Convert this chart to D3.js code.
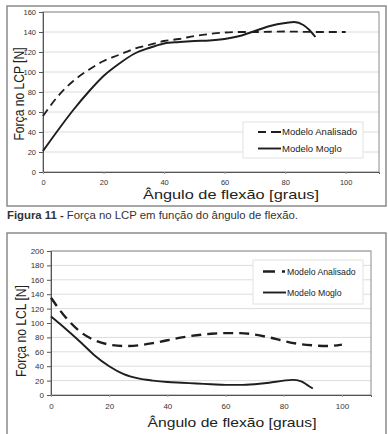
<!DOCTYPE html>
<html>
<head>
<meta charset="utf-8">
<script src="https://cdn.jsdelivr.net/npm/d3@7"></script>
<style>
  body { margin: 0; background: #fff; }
  svg { display: block; font-family: "Liberation Sans", Arial, sans-serif; }
</style>
</head>
<body>
<svg id="chart" width="388" height="434"></svg>
<script>
// Figura 11 - LCP
var lcpAnalisadoX = [0, 5, 10, 15, 20, 25, 30, 35, 40, 45, 50, 55, 60, 65, 70, 80, 90, 100];
var lcpAnalisadoY = [56, 76, 91, 102, 111, 117, 123, 127, 131, 133, 136, 138, 139.5, 140, 140, 140.5, 140, 140];
var lcpMogloX = [0, 5, 10, 15, 20, 25, 30, 35, 40, 45, 50, 55, 60, 65, 70, 75, 80, 83, 86, 88, 90];
var lcpMogloY = [21, 42, 62, 80, 96, 108, 118, 124, 128.5, 130, 131, 131.5, 133, 136, 141, 146, 149, 150, 147, 142, 135];

// LCL
var lclAnalisadoX = [0, 5, 10, 15, 20, 25, 30, 35, 40, 45, 50, 55, 60, 65, 70, 75, 80, 85, 90, 95, 100];
var lclAnalisadoY = [135, 108, 88, 76, 70, 68, 69, 72, 76, 80, 83, 85, 86, 86, 84, 80, 75, 71, 69, 68, 70];
var lclMogloX = [0, 5, 10, 15, 20, 25, 30, 35, 40, 45, 50, 55, 60, 65, 70, 75, 80, 83, 86, 88, 90];
var lclMogloY = [109, 92, 74, 55, 40, 29, 23, 20, 18, 17, 16, 15, 14, 14, 15, 17, 20, 21, 19, 14, 9];

var xTicks = [0, 20, 40, 60, 80, 100];
var lcpTicks = [0, 20, 40, 60, 80, 100, 120, 140, 160];
var lclTicks = [0, 20, 40, 60, 80, 100, 120, 140, 160, 180, 200];
var legendNames = ["Modelo Analisado", "Modelo Moglo"];

var svg = d3.select("#chart");

function zip(xs, ys) {
    return xs.map(function(x, i) { return {x: x, y: ys[i]}; });
}

function drawChart(o) {
    var g = svg.append("g");

    // outer frame
    g.append("rect")
        .attr("x", o.frame[0]).attr("y", o.frame[1])
        .attr("width", o.frame[2]).attr("height", o.frame[3])
        .attr("fill", "none").attr("stroke", "#8a8a8a").attr("stroke-width", 1.5);

    var x = d3.scaleLinear().domain(o.xDomain).range([o.left, o.right]);
    var y = d3.scaleLinear().domain(o.yDomain).range([o.bottom, o.top]);

    // gridlines
    g.selectAll(".grid")
        .data(o.yTicks.slice(1))
        .enter().append("line")
        .attr("x1", o.left).attr("x2", o.right)
        .attr("y1", function(d) { return y(d); })
        .attr("y2", function(d) { return y(d); })
        .attr("stroke", "#dcdcdc").attr("stroke-width", 1);

    // plot area border
    g.append("rect")
        .attr("x", o.left).attr("y", o.top)
        .attr("width", o.right - o.left).attr("height", o.bottom - o.top)
        .attr("fill", "none").attr("stroke", "#8c8c8c").attr("stroke-width", 1);

    var yAxis = g.append("g")
        .attr("transform", "translate(" + o.left + ",0)")
        .call(d3.axisLeft(y).tickValues(o.yTicks).tickSize(4).tickPadding(3));
    yAxis.selectAll("text").attr("font-size", o.tickFont).attr("fill", "#333")
        .attr("font-family", "Liberation Sans, Arial, sans-serif");
    yAxis.selectAll("line,path").attr("stroke", "#555");

    var xAxis = g.append("g")
        .attr("transform", "translate(0," + o.bottom + ")")
        .call(d3.axisBottom(x).tickValues(xTicks).tickSize(2).tickPadding(6));
    xAxis.selectAll("text").attr("font-size", o.tickFont).attr("fill", "#333")
        .attr("font-family", "Liberation Sans, Arial, sans-serif");
    xAxis.selectAll("line").attr("stroke", "#999");
    xAxis.select("path").attr("stroke", "#555");

    // axis titles (source image is stretched sideways, so fit lengths)
    g.append("text")
        .attr("x", o.xTitle[0]).attr("y", o.xTitle[1])
        .attr("text-anchor", "middle").attr("font-size", 13.5).attr("fill", "#222")
        .attr("textLength", o.xTitle[2]).attr("lengthAdjust", "spacingAndGlyphs")
        .text("Ângulo de flexão [graus]");
    g.append("text")
        .attr("transform", "translate(" + o.yTitle[0] + "," + o.yTitle[1] + ") rotate(-90)")
        .attr("text-anchor", "middle").attr("font-size", 14.5).attr("fill", "#222")
        .attr("textLength", o.yTitle[2]).attr("lengthAdjust", "spacingAndGlyphs")
        .text(o.yLabel);

    var line = d3.line()
        .x(function(d) { return x(d.x); })
        .y(function(d) { return y(d.y); })
        .curve(d3.curveMonotoneX);

    g.append("path")
        .datum(zip(o.analX, o.analY))
        .attr("d", line)
        .attr("fill", "none").attr("stroke", "#1e1e1e")
        .attr("stroke-width", o.dashWidth).attr("stroke-dasharray", o.dash);

    g.append("path")
        .datum(zip(o.mogX, o.mogY))
        .attr("d", line)
        .attr("fill", "none").attr("stroke", "#1e1e1e")
        .attr("stroke-width", 1.9);

    // legend
    var lg = g.append("g");
    lg.append("rect")
        .attr("x", o.legend[0]).attr("y", o.legend[1])
        .attr("width", o.legend[2]).attr("height", o.legend[3])
        .attr("fill", "#fff").attr("stroke", "#e2e2e2");
    var rows = lg.selectAll(".row").data(legendNames).enter().append("g")
        .attr("transform", function(d, i) {
            return "translate(" + o.legendItem[0] + "," + (o.legendItem[1] + i * o.legendItem[2]) + ")";
        });
    rows.append("line")
        .attr("x1", 0).attr("x2", o.legendItem[3]).attr("y1", 0).attr("y2", 0)
        .attr("stroke", "#1e1e1e")
        .attr("stroke-width", function(d, i) { return i === 0 ? o.dashWidth : 1.9; })
        .attr("stroke-dasharray", function(d, i) { return i === 0 ? o.legendDash : null; });
    rows.append("text")
        .attr("x", o.legendItem[3] + 1).attr("y", 0).attr("dy", "0.35em")
        .attr("font-size", o.legendFont).attr("fill", "#222")
        .text(function(d) { return d; });
}

drawChart({
    frame: [7, 6, 379, 200],
    left: 43, right: 379, top: 12, bottom: 172,
    xDomain: [0, 111], yDomain: [0, 160],
    yTicks: lcpTicks, tickFont: 7.5,
    xTitle: [231, 199, 176], yTitle: [24, 94, 93], yLabel: "Força no LCP [N]",
    analX: lcpAnalisadoX, analY: lcpAnalisadoY,
    mogX: lcpMogloX, mogY: lcpMogloY,
    dash: "8,5", dashWidth: 1.8, legendDash: "8,5,10",
    legend: [243, 122, 120, 36],
    legendItem: [258, 132, 16.5, 23], legendFont: 9.5
});

// caption
svg.append("text")
    .attr("x", 7).attr("y", 219)
    .attr("font-size", 11).attr("fill", "#333")
    .attr("textLength", 291).attr("lengthAdjust", "spacingAndGlyphs")
    .call(function(t) {
        t.append("tspan").attr("font-weight", "bold").text("Figura 11 - ");
        t.append("tspan").text("Força no LCP em função do ângulo de flexão.");
    });

drawChart({
    frame: [7, 233, 379, 210],
    left: 51, right: 371, top: 251, bottom: 395,
    xDomain: [0, 110], yDomain: [0, 200],
    yTicks: lclTicks, tickFont: 8,
    xTitle: [232, 427, 169], yTitle: [26, 331, 92], yLabel: "Força no LCL [N]",
    analX: lclAnalisadoX, analY: lclAnalisadoY,
    mogX: lclMogloX, mogY: lclMogloY,
    dash: "10,6", dashWidth: 2.4, legendDash: "12,7,3",
    legend: [253, 260, 110, 44],
    legendItem: [263, 271.5, 21, 23], legendFont: 8.7
});
</script>
</body>
</html>
